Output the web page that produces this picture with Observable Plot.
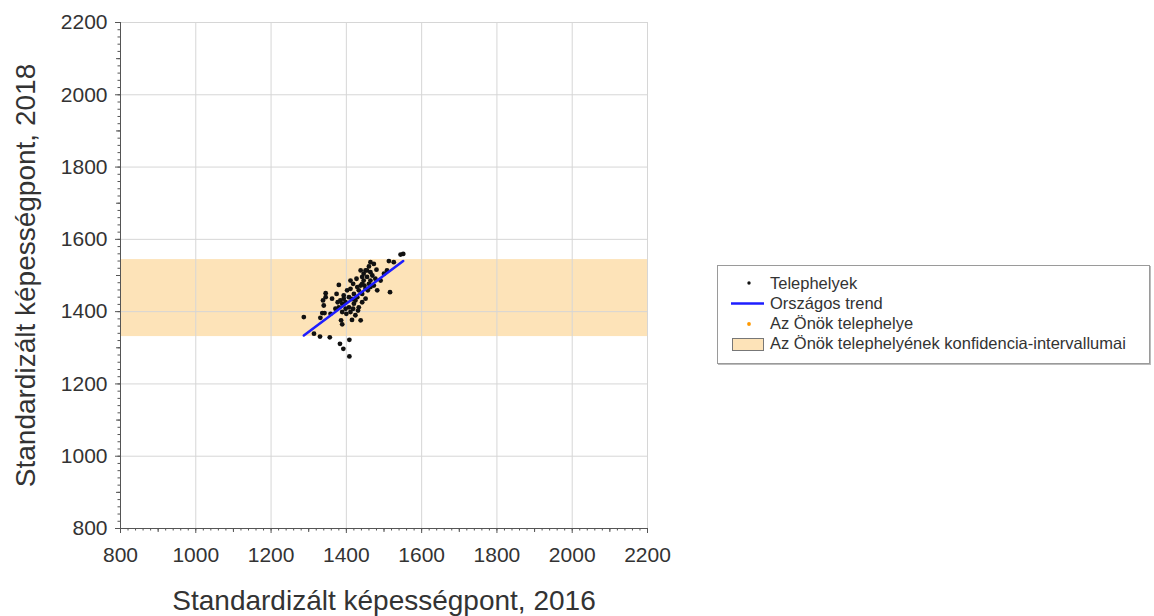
<!DOCTYPE html>
<html>
<head>
<meta charset="utf-8">
<script src="https://cdn.jsdelivr.net/npm/d3@7"></script>
<script src="https://cdn.jsdelivr.net/npm/@observablehq/plot@0.6"></script>
<style>
  html, body { margin: 0; padding: 0; background: #fff; }
  #wrap { position: relative; width: 1154px; height: 616px; font-family: "Liberation Sans", Arial, sans-serif; }
  #legend { position: absolute; box-sizing: border-box; left: 717px; top: 265px; width: 433px; height: 99px; border: 1px solid #9a9a9a; box-shadow: 1px 1px 0 #bbb; background: #fff; font-size: 16.5px; color: #333; }
  .item { position: absolute; left: 0; height: 20px; width: 100%; }
  .item span.t { position: absolute; left: 52px; top: 0; line-height: 20px; white-space: nowrap; }
</style>
</head>
<body>
<div id="wrap"></div>
<script>
// Data
const sites2016 = [1314,1330,1356,1383,1392,1408,1408,1287,1331,1336,1342,1340,1338,1345,1345,1362,1380,1374,1384,1389,1380,1389,1386,1389,1398,1407,1407,1411,1415,1438,1420,1424,1420,1418,1429,1433,1438,1442,1446,1446,1451,1460,1464,1455,1460,1451,1464,1469,1480,1473,1482,1433,1431,1442,1451,1402,1393,1411,1455,1442,1513,1526,1544,1551,1516,1500,1491,1508,1424,1400,1371,1358,1411,1438,1464,1473,1429,1448,1457,1415,1398,1418,1464,1442,1393,1377,1427,1477];
const sites2018 = [1339,1331,1329,1311,1297,1276,1322,1385,1383,1396,1396,1417,1431,1451,1440,1436,1474,1449,1431,1422,1412,1399,1376,1365,1426,1440,1412,1399,1377,1376,1422,1431,1449,1477,1440,1459,1472,1449,1486,1505,1514,1525,1537,1496,1477,1463,1486,1500,1516,1472,1459,1412,1403,1426,1436,1459,1445,1463,1514,1496,1540,1537,1558,1560,1454,1505,1486,1514,1390,1394,1408,1394,1486,1514,1509,1532,1468,1472,1459,1435,1408,1408,1468,1477,1436,1426,1491,1491];
const trend2016 = [1287, 1551];
const trend2018 = [1334, 1540];
const confLow = 1331, confHigh = 1544;
const majorTicks = [800,1000,1200,1400,1600,1800,2000,2200];
const xLabel = "Standardizált képességpont, 2016";
const yLabel = "Standardizált képességpont, 2018";
const legendLabels = ["Telephelyek", "Országos trend", "Az Önök telephelye", "Az Önök telephelyének konfidencia-intervallumai"];

const points = sites2016.map((x, i) => ({x, y: sites2018[i]}));
const trend = trend2016.map((x, i) => ({x, y: trend2018[i]}));
const minor20 = d3.range(800, 2201, 20);
const minor100 = d3.range(900, 2200, 200);

const chart = Plot.plot({
  width: 1154,
  height: 616,
  marginLeft: 120,
  marginRight: 507,
  marginTop: 22,
  marginBottom: 88,
  style: {fontFamily: "Liberation Sans, Arial, sans-serif", background: "#fff"},
  x: {domain: [800, 2200]},
  y: {domain: [800, 2200]},
  marks: [
    Plot.rect([{lo: confLow, hi: confHigh}], {y1: "lo", y2: "hi", fill: "#fde3b8"}),
    Plot.gridX(majorTicks, {stroke: "#d6d6d6", strokeOpacity: 1}),
    Plot.gridY(majorTicks, {stroke: "#d6d6d6", strokeOpacity: 1}),
    Plot.axisX({ticks: minor20, tickSize: 2.5, text: null, stroke: "#555", label: null}),
    Plot.axisX({ticks: minor100, tickSize: 4, text: null, stroke: "#555", label: null}),
    Plot.axisX({ticks: majorTicks, tickSize: 5, tickPadding: 14, fontSize: 21, fill: "#333", stroke: "#555", label: null, tickFormat: d => String(d)}),
    Plot.axisY({ticks: minor20, tickSize: 2.5, text: null, stroke: "#555", label: null}),
    Plot.axisY({ticks: minor100, tickSize: 4, text: null, stroke: "#555", label: null}),
    Plot.axisY({ticks: majorTicks, tickSize: 5, tickPadding: 8, fontSize: 21, fill: "#333", stroke: "#555", label: null, tickFormat: d => String(d)}),
    Plot.ruleX([800], {stroke: "#555"}),
    Plot.ruleY([800], {stroke: "#555"}),
    Plot.dot(points, {x: "x", y: "y", r: 2.4, fill: "#111", stroke: "none"}),
    Plot.line(trend, {x: "x", y: "y", stroke: "#1e1eff", strokeWidth: 2.6}),
    Plot.text([xLabel], {text: d => d, frameAnchor: "bottom", dy: 73, fontSize: 28, fill: "#333", lineAnchor: "middle", textAnchor: "middle"}),
    Plot.text([yLabel], {text: d => d, frameAnchor: "left", dx: -94, rotate: -90, fontSize: 28, fill: "#333", lineAnchor: "middle", textAnchor: "middle"})
  ]
});

const wrap = document.getElementById("wrap");
wrap.appendChild(chart);

// Legend
const legend = document.createElement("div");
legend.id = "legend";
const swatches = [
  `<svg width="50" height="20" style="position:absolute;left:0;top:0"><circle cx="31" cy="10" r="1.7" fill="#111"/></svg>`,
  `<svg width="50" height="20" style="position:absolute;left:0;top:0"><line x1="13" x2="46" y1="10.5" y2="10.5" stroke="#1e1eff" stroke-width="2.6"/></svg>`,
  `<svg width="50" height="20" style="position:absolute;left:0;top:0"><circle cx="31" cy="11" r="1.9" fill="#ff9900"/></svg>`,
  `<svg width="50" height="20" style="position:absolute;left:0;top:0"><rect x="14.5" y="5.5" width="31" height="12" fill="#fde3b8" stroke="#777"/></svg>`
];
const tops = [6.5, 26.5, 46.5, 66.5];
legendLabels.forEach((lab, i) => {
  const it = document.createElement("div");
  it.className = "item";
  it.style.top = tops[i] + "px";
  it.innerHTML = swatches[i] + `<span class="t">${lab}</span>`;
  legend.appendChild(it);
});
wrap.appendChild(legend);
</script>
</body>
</html>
